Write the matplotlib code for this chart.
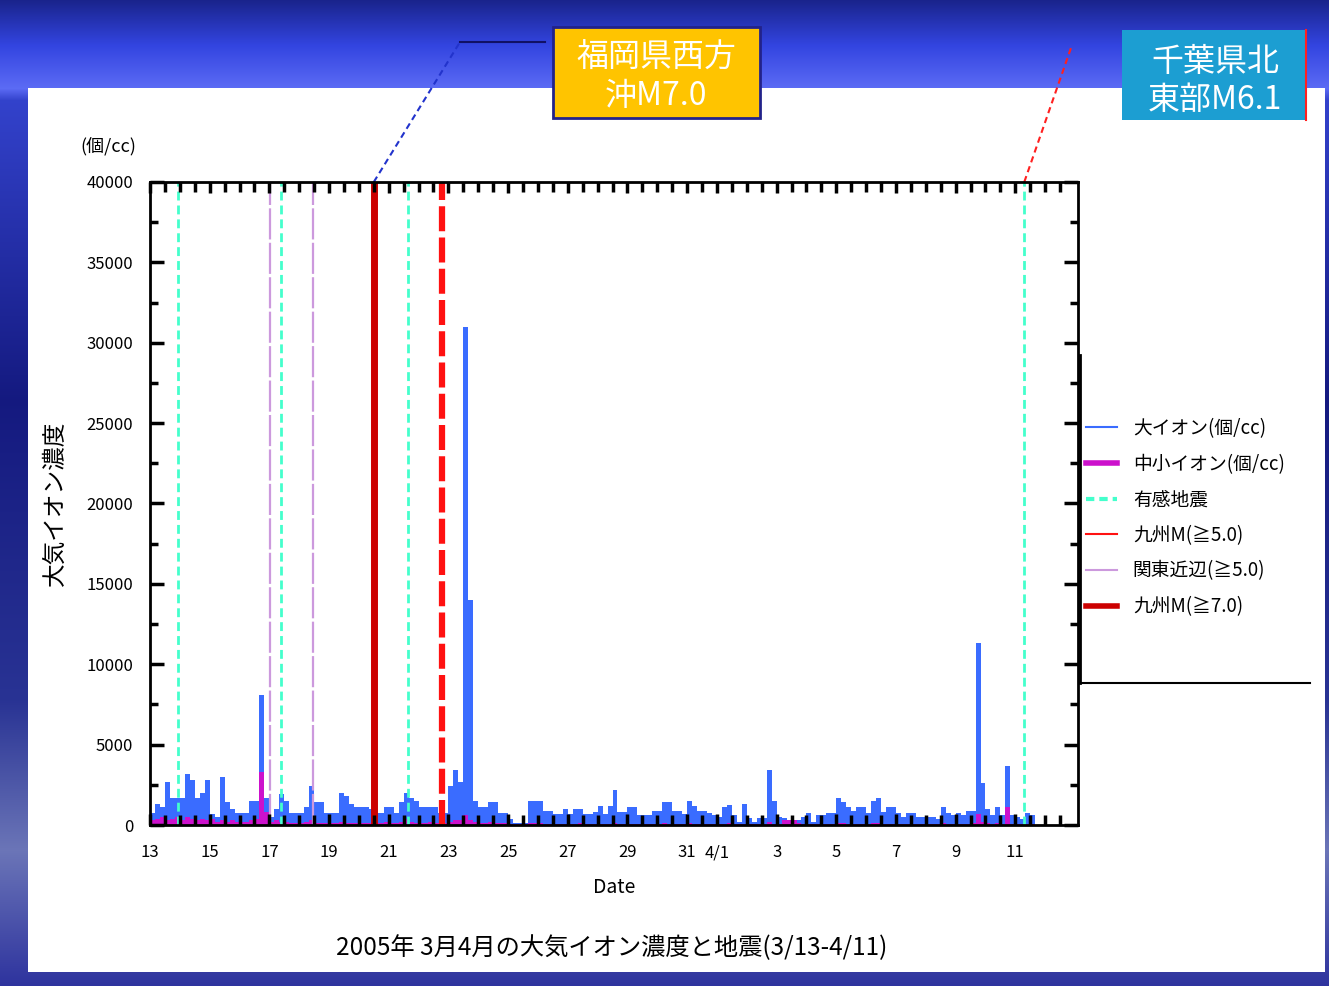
import numpy as np
import matplotlib.pyplot as plt
from matplotlib.lines import Line2D
from matplotlib.patches import Rectangle

plt.rcParams['font.family'] = ['Noto Sans CJK JP', 'DejaVu Sans']

W, H = 1329, 986

# 4-hour values from 3/13 00:00, one row per day (個/cc)
march_large = [
    [750, 1300, 1100, 2700, 1700, 1700],
    [1700, 3200, 2800, 1700, 2000, 2800],
    [700, 500, 3000, 1400, 1000, 750],
    [750, 750, 1500, 1500, 8100, 1700],
    [500, 1000, 1900, 1500, 750, 750],
    [750, 1100, 2400, 1400, 1400, 750],
    [750, 750, 2000, 1800, 1300, 1100],
    [1100, 1100, 1000, 750, 750, 1100],
    [1100, 750, 1400, 2000, 1700, 1500],
    [1100, 1100, 1100, 1100, 750, 750],
    [2400, 3400, 2700, 31000, 14000, 1500],
    [1100, 1100, 1400, 1400, 750, 750],
    [400, 100, 100, 100, 1500, 1500],
    [1500, 900, 900, 700, 700, 1000],
    [700, 1000, 1000, 700, 700, 800],
    [1200, 700, 1200, 2200, 800, 800],
    [1100, 1100, 600, 600, 600, 900],
    [900, 1400, 1400, 900, 900, 700],
    [1500, 1200, 900, 900, 750, 600],
]
april_large = [
    [500, 1100, 1250, 600, 200, 1300],
    [450, 200, 450, 450, 3400, 1500],
    [500, 450, 300, 300, 300, 500],
    [750, 200, 650, 650, 750, 750],
    [1700, 1400, 1100, 900, 1100, 1100],
    [750, 1500, 1700, 800, 1100, 1100],
    [750, 500, 750, 750, 500, 500],
    [500, 500, 400, 1100, 750, 650],
    [750, 600, 900, 900, 11300, 2600],
    [1000, 650, 1100, 600, 3700, 600],
    [500, 400, 750, 600],
]
march_small = [
    [300, 400, 500, 300, 400, 500],
    [300, 500, 400, 300, 400, 300],
    [400, 200, 300, 200, 300, 200],
    [200, 200, 300, 400, 3300, 800],
    [200, 300, 200, 200, 100, 100],
    [100, 200, 300, 100, 100, 100],
    [100, 100, 200, 100, 100, 100],
    [100, 100, 100, 100, 100, 200],
    [100, 100, 200, 400, 200, 100],
    [100, 100, 200, 100, 100, 100],
    [200, 300, 300, 600, 300, 200],
    [100, 100, 200, 100, 100, 100],
    [50, 50, 50, 50, 100, 100],
    [100, 50, 50, 50, 50, 50],
    [50, 50, 100, 50, 50, 50],
    [50, 50, 50, 100, 50, 50],
    [50, 50, 50, 50, 50, 50],
    [50, 100, 50, 50, 50, 50],
    [100, 50, 50, 50, 50, 50],
]
april_small = [
    [50, 50, 100, 50, 50, 50],
    [50, 50, 50, 50, 200, 50],
    [50, 300, 300, 300, 100, 50],
    [50, 50, 50, 50, 50, 50],
    [100, 100, 50, 50, 50, 50],
    [50, 100, 100, 50, 50, 50],
    [50, 50, 50, 50, 50, 50],
    [50, 50, 50, 100, 50, 50],
    [50, 50, 50, 100, 700, 200],
    [100, 50, 100, 50, 1100, 50],
    [50, 50, 50, 50],
]

# earthquakes, days since 3/13 00:00
felt_quakes = [0.94, 4.38, 8.65, 29.30]
kanto_quakes = [4.01, 5.45]
kyushu_m5 = [9.79]
kyushu_m7 = [7.50]

tick_days = [0, 2, 4, 6, 8, 10, 12, 14, 16, 18, 19, 21, 23, 25, 27, 29]
tick_labels = ['13', '15', '17', '19', '21', '23', '25', '27', '29', '31',
               '4/1', '3', '5', '7', '9', '11']

legend_labels = ['大イオン(個/cc)', '中小イオン(個/cc)', '有感地震',
                 '九州M(≧5.0)', '関東近辺(≧5.0)', '九州M(≧7.0)']

large = np.array(sum(march_large + april_large, []), dtype=float)
small = np.array(sum(march_small + april_small, []), dtype=float)
edges = np.arange(len(large) + 1) / 6.0

fig = plt.figure(figsize=(W / 100, H / 100), dpi=100)

# slide background
bg = fig.add_axes([0, 0, 1, 1])
bg.axis('off')
gy = [0, 45, 88, 100, 400, 700, 850, 986]
gc = np.array([[0.10, 0.14, 0.55], [0.20, 0.27, 0.88], [0.36, 0.42, 0.96],
               [0.20, 0.26, 0.80], [0.08, 0.10, 0.50], [0.16, 0.20, 0.58],
               [0.42, 0.46, 0.72], [0.18, 0.20, 0.62]])
rows = np.arange(H)
grad = np.stack([np.interp(rows, gy, gc[:, i]) for i in range(3)], axis=-1)
bg.imshow(grad[:, None, :], aspect='auto', extent=(0, W, H, 0),
          interpolation='bilinear')
bg.set_xlim(0, W)
bg.set_ylim(H, 0)
bg.add_patch(Rectangle((28, 88), 1297, 884, facecolor='white', edgecolor='none'))

ax = fig.add_axes([150 / W, 1 - 825 / H, 928 / W, 643 / H])
ax.set_facecolor('white')

ax.stairs(large, edges, fill=True, color='#3a6cff', zorder=2)
ax.stairs(small, edges, fill=True, color='#cc11cc', zorder=2.1)

for d in felt_quakes:
    ax.axvline(d, color='#44ffcc', lw=2, ls=(0, (3.2, 1.8)), zorder=2.2)
for d in kanto_quakes:
    ax.axvline(d, color='#cc99dd', lw=1.6, ls=(0, (14, 1.5)), zorder=2.2)
for d in kyushu_m7:
    ax.axvline(d, color='#cc0000', lw=5, zorder=2.2)
for d in kyushu_m5:
    ax.axvline(d, color='#ff1111', lw=4.5, ls=(0, (4, 1)), zorder=2.2)

ax.set_xlim(0.1, 31.1)
ax.set_ylim(0, 40000)
ax.set_axisbelow(False)
for s in ax.spines.values():
    s.set_linewidth(2)

ax.set_yticks(np.arange(0, 40001, 5000))
ax.set_yticks(np.arange(2500, 40000, 5000), minor=True)
ax.set_xticks(tick_days)
ax.set_xticklabels(tick_labels)
ax.set_xticks(np.arange(0.5, 31, 0.5), minor=True)
ax.tick_params(which='both', direction='in', top=True, right=True, width=2.5,
               labelsize=12)
ax.tick_params(axis='y', which='major', length=10, pad=12)
ax.tick_params(axis='y', which='minor', length=6)
ax.tick_params(axis='x', which='major', length=8, pad=14)
ax.tick_params(axis='x', which='minor', length=7)
ax.set_xlabel('Date', fontsize=14, labelpad=11)

fig.text(55 / W, 1 - 503 / H, '大気イオン濃度', rotation=90, fontsize=17,
         ha='center', va='center')
fig.text(108 / W, 1 - 147 / H, '(個/cc)', fontsize=13, ha='center', va='center')
fig.text(612 / W, 1 - 948 / H, '2005年 3月4月の大気イオン濃度と地震(3/13-4/11)',
         fontsize=17.5, ha='center', va='center')

# callout boxes
bg.add_patch(Rectangle((553, 27), 207, 91, facecolor='#ffc400',
                       edgecolor='#22228a', lw=2))
bg.text(656, 57, '福岡県西方', color='white', fontsize=23, ha='center', va='center')
bg.text(656, 96, '沖M7.0', color='white', fontsize=23, ha='center', va='center')
bg.add_patch(Rectangle((1122, 30), 185, 90, facecolor='#1c9ed2', edgecolor='none'))
bg.plot([1306, 1306], [30, 120], color='#ff2020', lw=1.5)
bg.text(1215, 62, '千葉県北', color='white', fontsize=23, ha='center', va='center')
bg.text(1215, 100, '東部M6.1', color='white', fontsize=23, ha='center', va='center')


def to_px(d, v):
    x, y = ax.transData.transform((d, v))
    return x, H - y


x0, y0 = to_px(kyushu_m7[0], 40000)
bg.plot([x0, 460], [y0, 42], color='#2233cc', lw=1.5, ls=(0, (3, 2)))
bg.plot([460, 545], [42, 42], color='#111166', lw=1.5)
x1, y1 = to_px(felt_quakes[-1], 40000)
bg.plot([x1, 1072], [y1, 45], color='#ff2020', lw=1.5, ls=(0, (3, 2)))

# legend
handles = [
    Line2D([], [], color='#3a6cff', lw=1.5),
    Line2D([], [], color='#cc11cc', lw=4),
    Line2D([], [], color='#44ffcc', lw=3, ls=(0, (2, 1.2))),
    Line2D([], [], color='#ff1111', lw=1.5),
    Line2D([], [], color='#cc99dd', lw=1.5),
    Line2D([], [], color='#cc0000', lw=4),
]
fig.legend(handles, legend_labels, loc='upper left',
           bbox_to_anchor=(1086 / W, 1 - 418 / H), frameon=False,
           fontsize=13.5, labelspacing=0.78, handlelength=1.65,
           handletextpad=0.85, borderpad=0, borderaxespad=0)
bg.plot([1080, 1080], [355, 683], color='black', lw=2)
bg.plot([1080, 1310], [683, 683], color='black', lw=1.5)

fig.savefig('out.png', dpi=100)
